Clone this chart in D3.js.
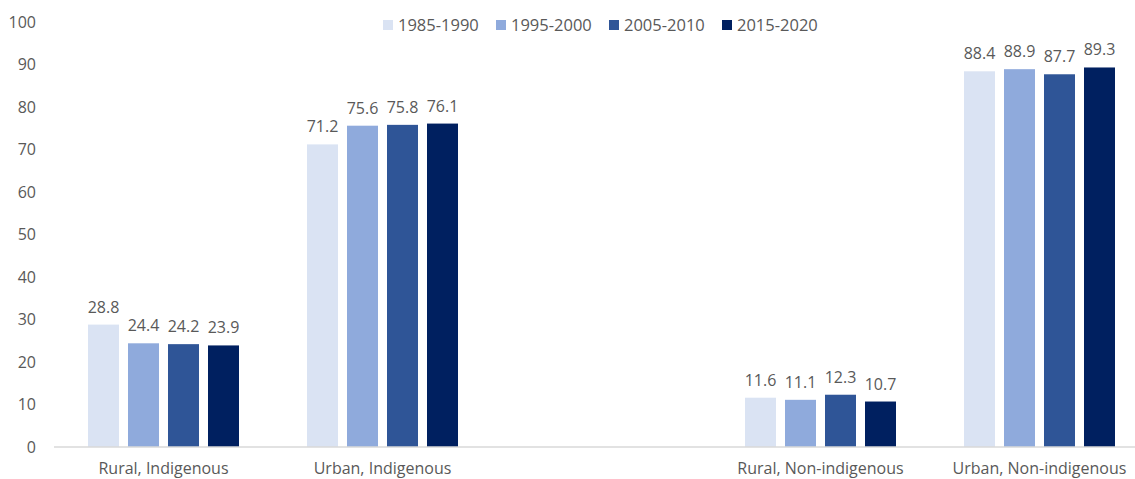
<!DOCTYPE html>
<html>
<head>
<meta charset="utf-8">
<script src="https://cdn.jsdelivr.net/npm/d3@7"></script>
<style>
  html, body { margin: 0; padding: 0; background: #fff; }
  svg { display: block; }
  text { font-family: "Open Sans", "Noto Sans", sans-serif; fill: #595959; }
</style>
</head>
<body>
<svg id="chart" width="1135" height="479"></svg>
<script>
// Groups along the x axis; the empty slot keeps the space between the two halves.
const categories = ["Rural, Indigenous", "Urban, Indigenous", "", "Rural, Non-indigenous", "Urban, Non-indigenous"];
const periods = ["1985-1990", "1995-2000", "2005-2010", "2015-2020"];
const values1985 = [28.8, 71.2, null, 11.6, 88.4];
const values1995 = [24.4, 75.6, null, 11.1, 88.9];
const values2005 = [24.2, 75.8, null, 12.3, 87.7];
const values2015 = [23.9, 76.1, null, 10.7, 89.3];
const yTicks = [0, 10, 20, 30, 40, 50, 60, 70, 80, 90, 100];

const seriesValues = [values1985, values1995, values2005, values2015];
const colors = ["#dae3f3", "#8faadc", "#2f5597", "#002060"];

const svg = d3.select("#chart");

const x = d3.scaleBand().domain(categories).range([54, 1149]).paddingInner(0).paddingOuter(0);
const xInner = d3.scaleBand().domain(periods).range([0, x.bandwidth()]).paddingInner(0.225).paddingOuter(0.85);
const y = d3.scaleLinear().domain([0, 100]).range([447, 22]);
const color = d3.scaleOrdinal().domain(periods).range(colors);

// y axis labels only (no line, no ticks)
const yAxis = d3.axisLeft(y).tickValues(yTicks).tickSize(0).tickPadding(0).tickFormat(d3.format("d"));
const gy = svg.append("g").attr("transform", "translate(36,0)").call(yAxis);
gy.select(".domain").remove();
gy.selectAll("text").attr("font-size", "16px").attr("fill", "#595959")
  .attr("font-family", "'Open Sans', sans-serif");

// bars
const rows = categories.map((c, i) => ({
  category: c,
  items: periods.map((p, j) => ({ period: p, value: seriesValues[j][i] }))
}));

const groups = svg.append("g").selectAll("g")
  .data(rows.filter(r => r.category !== ""))
  .join("g")
  .attr("transform", d => `translate(${x(d.category)},0)`);

groups.selectAll("rect")
  .data(d => d.items)
  .join("rect")
  .attr("x", d => xInner(d.period))
  .attr("width", xInner.bandwidth())
  .attr("y", d => y(d.value))
  .attr("height", d => y(0) - y(d.value))
  .attr("fill", d => color(d.period));

groups.selectAll("text.val")
  .data(d => d.items)
  .join("text")
  .attr("class", "val")
  .attr("x", d => xInner(d.period) + xInner.bandwidth() / 2)
  .attr("y", d => y(d.value) - 12)
  .attr("text-anchor", "middle")
  .attr("font-size", "16px")
  .text(d => d3.format(".1f")(d.value));

// baseline
svg.append("line")
  .attr("x1", 54).attr("x2", 1135)
  .attr("y1", y(0)).attr("y2", y(0))
  .attr("stroke", "#d9d9d9").attr("stroke-width", 1.5);

// category labels
svg.append("g").selectAll("text")
  .data(categories.filter(c => c !== ""))
  .join("text")
  .attr("x", d => x(d) + x.bandwidth() / 2)
  .attr("y", 474)
  .attr("text-anchor", "middle")
  .attr("font-size", "16px")
  .text(d => d);

// legend
const legend = svg.append("g").selectAll("g")
  .data(periods)
  .join("g")
  .attr("transform", (d, i) => `translate(${383 + i * 113},0)`);

legend.append("rect")
  .attr("x", 0).attr("y", 20)
  .attr("width", 10).attr("height", 10)
  .attr("fill", d => color(d));

legend.append("text")
  .attr("x", 15).attr("y", 31)
  .attr("font-size", "16.5px")
  .text(d => d);
</script>
</body>
</html>
